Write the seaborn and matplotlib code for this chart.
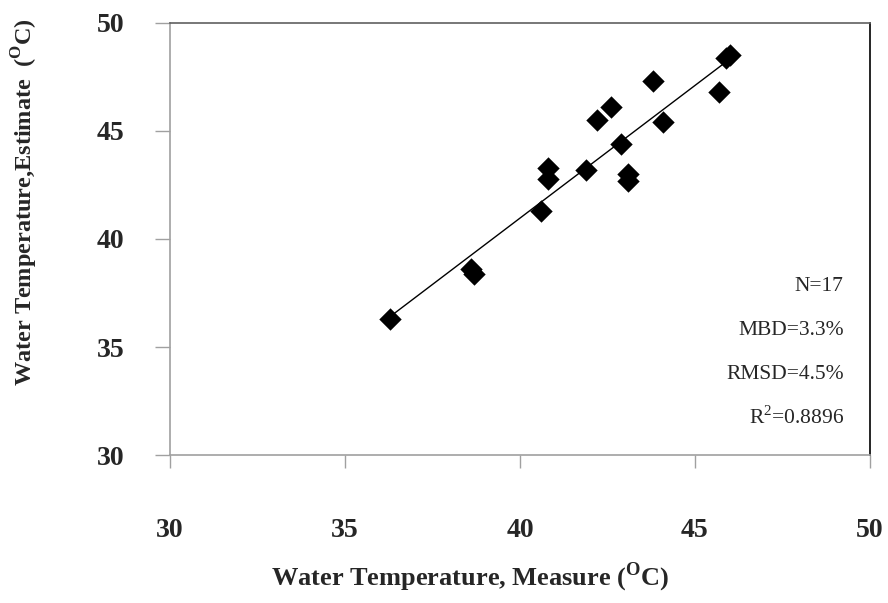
import matplotlib.pyplot as plt
import numpy as np
import pandas as pd
import seaborn as sns

measured = [36.3, 38.6, 38.7, 40.6, 40.8, 40.8, 41.9, 42.2, 42.6, 42.9,
            43.1, 43.1, 43.8, 44.1, 45.7, 45.9, 46.0]
estimated = [36.3, 38.6, 38.4, 41.3, 43.3, 42.8, 43.2, 45.5, 46.1, 44.4,
             43.0, 42.7, 47.3, 45.4, 46.8, 48.4, 48.5]
stats = ["N=17", "MBD=3.3%", "RMSD=4.5%", "R$^2$=0.8896"]
ticks = [30, 35, 40, 45, 50]

df = pd.DataFrame({"measure": measured, "estimate": estimated})

sns.set_style("white")
plt.rcParams["font.family"] = ["Liberation Serif", "DejaVu Serif"]
plt.rcParams["mathtext.fontset"] = "custom"
plt.rcParams["mathtext.rm"] = "Liberation Serif"

fig = plt.figure(figsize=(8.88, 6.03), dpi=100)
ax = fig.add_axes([0.1914, 0.2454, 0.7883, 0.7165])

sns.regplot(
    data=df, x="measure", y="estimate", ax=ax, ci=None, truncate=True,
    marker="D",
    scatter_kws={"s": 130, "color": "black", "linewidths": 0, "alpha": 1},
    line_kws={"color": "black", "linewidth": 1.0},
)

ax.set_xlim(30, 50)
ax.set_ylim(30, 50)
ax.set_xticks(ticks)
ax.set_yticks(ticks)
ax.set_xticklabels([str(t) for t in ticks], fontsize=20, fontweight="bold")
ax.set_yticklabels([str(t) for t in ticks], fontsize=20, fontweight="bold")
ax.tick_params(axis="x", direction="out", length=9.5, width=1, color="#a0a0a0",
               pad=36, bottom=True)
ax.tick_params(axis="y", direction="out", length=11, width=1, color="#a0a0a0",
               pad=22, left=True)

ax.set_xlabel(r"Water Temperature, Measure ($^\mathregular{O}$C)",
              fontsize=19, fontweight="bold")
ax.set_ylabel(r"Water Temperature,Estimate  ($^\mathregular{O}$C)",
              fontsize=17.5, fontweight="bold")
ax.xaxis.set_label_coords(0.4286, -0.245)
ax.yaxis.set_label_coords(-0.185, 0.586)

for side, col in [("left", "#a0a0a0"), ("bottom", "#a0a0a0"),
                  ("top", "#606060"), ("right", "black")]:
    ax.spines[side].set_visible(True)
    ax.spines[side].set_color(col)
    ax.spines[side].set_linewidth(1.2)

for i, s in enumerate(stats):
    ax.text(49.25, 37.78 - i * 2.02, s, ha="right", va="center", fontsize=15.5)

fig.savefig("out.png", dpi=100)
